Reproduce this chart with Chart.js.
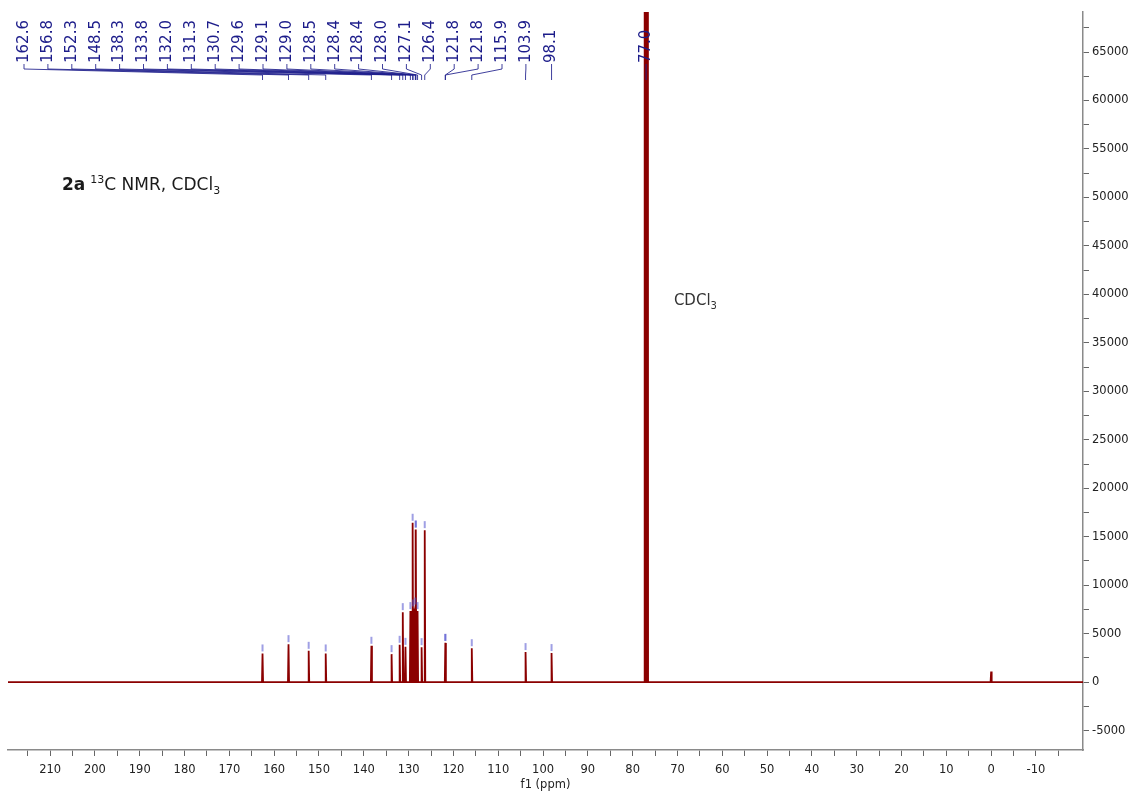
<!DOCTYPE html>
<html>
<head>
<meta charset="utf-8">
<title>2a 13C NMR, CDCl3</title>
<script src="https://cdn.jsdelivr.net/npm/chart.js@4.4.1/dist/chart.umd.min.js"></script>
<style>
  html, body { margin: 0; padding: 0; background: #fff; }
  canvas { display: block; }
</style>
</head>
<body>
<canvas id="nmr" width="1133" height="796"></canvas>
<script>
// picked peaks (ppm) and heights
const shifts = [162.6, 156.8, 152.3, 148.5, 138.3, 133.8, 132.0, 131.3, 130.7, 129.6, 129.1, 129.0,
  128.5, 128.4, 128.4, 128.0, 127.1, 126.4, 121.8, 121.8, 115.9, 103.9, 98.1, 77.0];
const heights = [2960, 3920, 3230, 2960, 3750, 2890, 3850, 7220, 3640, 7330, 16440, 7600,
  7800, 15740, 15740, 7330, 3610, 15680, 4050, 4050, 3500, 3100, 3000, 250000];

// solvent triplet and TMS (not labelled)
const solventShifts = [77.32, 77.0, 76.68];
const solventHeights = [250000, 250000, 250000];
const tmsShifts = [0.0];
const tmsHeights = [1100];

const ppmRange = [-20.5, 219.4];
const intensityRange = [-7000, 69130];
const ppmStep = 5;
const intensityStep = 2500;
const lastPpmTick = -15;
const peakHalfWidth = 0.12;

const titleBold = '2a';
const titleNucleus = '13';
const titleText = 'C NMR, CDCl';
const titleSub = '3';
const solventLabel = 'CDCl';
const solventSub = '3';

// build the trace: baseline with a narrow spike at every peak
const allPeaks = [];
shifts.forEach((s, i) => allPeaks.push([s, heights[i]]));
solventShifts.forEach((s, i) => allPeaks.push([s, solventHeights[i]]));
tmsShifts.forEach((s, i) => allPeaks.push([s, tmsHeights[i]]));
allPeaks.sort((a, b) => b[0] - a[0]);

const trace = [{ x: ppmRange[1], y: 0 }];
allPeaks.forEach(([s, h]) => {
  trace.push({ x: s + peakHalfWidth, y: 0 });
  trace.push({ x: s, y: h });
  trace.push({ x: s - peakHalfWidth, y: 0 });
});
trace.push({ x: ppmRange[0], y: 0 });

// ticks on every multiple of step inside the range
function stepTicks(scale, step, lowest) {
  const ticks = [];
  const from = Math.max(Math.ceil(scale.min / step) * step, lowest);
  for (let v = from; v <= scale.max; v += step) ticks.push({ value: v });
  scale.ticks = ticks;
}

const peakLabels = {
  id: 'peakLabels',
  afterDatasetsDraw(chart) {
    const { ctx, chartArea, scales: { x, y } } = chart;
    const gap = 23.9;
    const px = shifts.map(s => x.getPixelForValue(s));
    // push labels apart: right-to-left, then left-to-right
    const pos = px.slice();
    for (let i = pos.length - 2; i >= 0; i--) pos[i] = Math.min(px[i], pos[i + 1] - gap);
    pos[0] = Math.max(pos[0], chartArea.left + 16);
    for (let i = 1; i < pos.length; i++) pos[i] = Math.max(pos[i], pos[i - 1] + gap);

    const top = chartArea.top;
    ctx.save();

    // peak pick marks
    ctx.strokeStyle = 'rgba(80,80,205,0.55)';
    ctx.lineWidth = 2;
    shifts.forEach((s, i) => {
      const py = y.getPixelForValue(heights[i]);
      if (py < top + 80) return;
      ctx.beginPath();
      ctx.moveTo(px[i], py - 2);
      ctx.lineTo(px[i], py - 9);
      ctx.stroke();
    });

    // leader lines
    ctx.strokeStyle = 'rgba(30,30,140,0.85)';
    ctx.lineWidth = 1;
    shifts.forEach((s, i) => {
      ctx.beginPath();
      ctx.moveTo(pos[i], top + 52);
      ctx.lineTo(pos[i], top + 57);
      ctx.lineTo(px[i], top + 63);
      ctx.lineTo(px[i], top + 68);
      ctx.stroke();
    });

    // rotated shift labels
    ctx.fillStyle = '#1c1c8a';
    ctx.font = '15px "DejaVu Sans"';
    ctx.textAlign = 'left';
    ctx.textBaseline = 'middle';
    shifts.forEach((s, i) => {
      ctx.save();
      ctx.translate(pos[i], top + 51);
      ctx.rotate(-Math.PI / 2);
      ctx.fillText(s.toFixed(1), 0, 0);
      ctx.restore();
    });

    // title
    let tx = chartArea.left + 54;
    const ty = top + 178;
    ctx.fillStyle = '#1a1a1a';
    ctx.textBaseline = 'alphabetic';
    ctx.font = 'bold 17px "DejaVu Sans"';
    ctx.fillText(titleBold, tx, ty);
    tx += ctx.measureText(titleBold).width + 5;
    ctx.font = '11px "DejaVu Sans"';
    ctx.fillText(titleNucleus, tx, ty - 7);
    tx += ctx.measureText(titleNucleus).width;
    ctx.font = '17px "DejaVu Sans"';
    ctx.fillText(titleText, tx, ty);
    tx += ctx.measureText(titleText).width;
    ctx.font = '11px "DejaVu Sans"';
    ctx.fillText(titleSub, tx, ty + 4);

    // solvent annotation
    let sx = x.getPixelForValue(70.8);
    const sy = y.getPixelForValue(38900);
    ctx.fillStyle = '#333';
    ctx.font = '15px "DejaVu Sans"';
    ctx.fillText(solventLabel, sx, sy);
    sx += ctx.measureText(solventLabel).width;
    ctx.font = '10px "DejaVu Sans"';
    ctx.fillText(solventSub, sx, sy + 4);

    ctx.restore();
  }
};

const tickFont = { family: '"DejaVu Sans"', size: 11.5 };

new Chart(document.getElementById('nmr'), {
  type: 'line',
  data: {
    datasets: [{
      data: trace,
      borderColor: '#8b0000',
      borderWidth: 1.8,
      pointRadius: 0,
      tension: 0,
      fill: false
    }]
  },
  options: {
    responsive: false,
    animation: false,
    events: [],
    layout: { padding: { left: 8, top: 12, right: 0, bottom: 0 } },
    plugins: { legend: { display: false }, tooltip: { enabled: false } },
    scales: {
      x: {
        type: 'linear',
        reverse: true,
        min: ppmRange[0],
        max: ppmRange[1],
        afterFit(scale) { scale.height = 46; },
        afterBuildTicks(scale) { stepTicks(scale, ppmStep, lastPpmTick); },
        border: { color: '#8a8a8a', width: 1.5 },
        grid: { drawOnChartArea: false, tickLength: 6, tickColor: '#666', tickWidth: 1 },
        ticks: {
          autoSkip: false,
          maxRotation: 0,
          padding: 7,
          color: '#222',
          font: tickFont,
          callback: v => (v % 10 === 0 ? String(v) : '')
        },
        title: {
          display: true,
          text: 'f1 (ppm)',
          color: '#222',
          font: { family: '"DejaVu Sans"', size: 11.5 },
          padding: { top: 0, bottom: 4 }
        }
      },
      y: {
        type: 'linear',
        position: 'right',
        min: intensityRange[0],
        max: intensityRange[1],
        afterFit(scale) { scale.width = 50; },
        afterBuildTicks(scale) { stepTicks(scale, intensityStep, intensityRange[0]); },
        border: { color: '#8a8a8a', width: 1.5 },
        grid: { drawOnChartArea: false, tickLength: 6, tickColor: '#666', tickWidth: 1 },
        ticks: {
          autoSkip: false,
          padding: 3,
          color: '#222',
          font: tickFont,
          callback: v => (v % 5000 === 0 ? String(v) : '')
        }
      }
    }
  },
  plugins: [peakLabels]
});
</script>
</body>
</html>
